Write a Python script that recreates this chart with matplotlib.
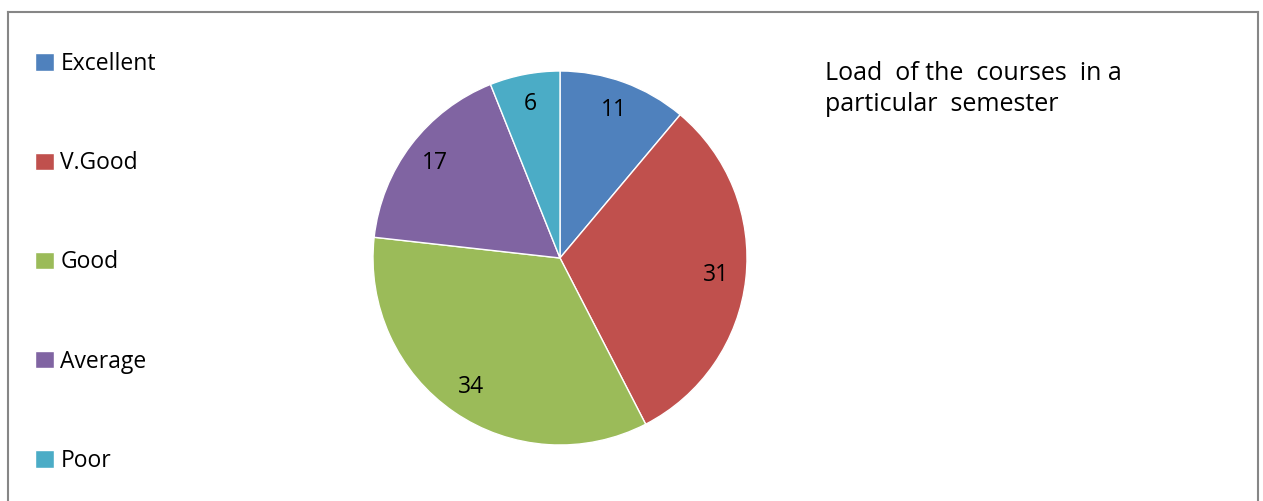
import matplotlib.pyplot as plt
from matplotlib.lines import Line2D

# data
categories = ['Excellent', 'V.Good', 'Good', 'Average', 'Poor']
values = [11, 31, 34, 17, 6]
colors = ['#4F81BD', '#C0504D', '#9BBB59', '#8064A2', '#4BACC6']
title = 'Load  of the  courses  in a\nparticular  semester'

plt.rcParams['font.family'] = ['Open Sans', 'DejaVu Sans']

W, H = 1263, 501
fig = plt.figure(figsize=(W / 100, H / 100), dpi=100)

# outer frame (top, left, right)
frame_kw = dict(color='#868686', linewidth=1.5, transform=fig.transFigure)
fig.add_artist(Line2D([8 / W, 8 / W], [0, 1 - 12 / H], **frame_kw))
fig.add_artist(Line2D([8 / W, 1258 / W], [1 - 12 / H, 1 - 12 / H], **frame_kw))
fig.add_artist(Line2D([1258 / W, 1258 / W], [0, 1 - 12 / H], **frame_kw))

# pie centred at (560, 258) px with radius ~187 px
cx, cy, r = 560, 258, 187
ax = fig.add_axes([(cx - r) / W, (H - cy - r) / H, 2 * r / W, 2 * r / H])
total = sum(values)
wedges, _, autotexts = ax.pie(
    values, colors=colors, startangle=90, counterclock=False,
    autopct=lambda p: f'{round(p * total / 100)}', pctdistance=0.84,
    wedgeprops=dict(edgecolor='white', linewidth=1),
    textprops=dict(fontsize=16.5, color='black'))
ax.set_xlim(-1, 1)
ax.set_ylim(-1, 1)
ax.set_aspect('equal')
ax.axis('off')

fig.legend(wedges, categories, loc='upper left',
           bbox_to_anchor=(26 / W, 1 - 43 / H), frameon=False,
           fontsize=16.5, handlelength=0.8, handleheight=0.8,
           handletextpad=0.3, labelspacing=3.28, borderaxespad=0)

fig.text(825 / W, 1 - 61 / H, title, fontsize=18, va='top', ha='left',
         linespacing=1.33)

fig.savefig('out.png', dpi=100)
